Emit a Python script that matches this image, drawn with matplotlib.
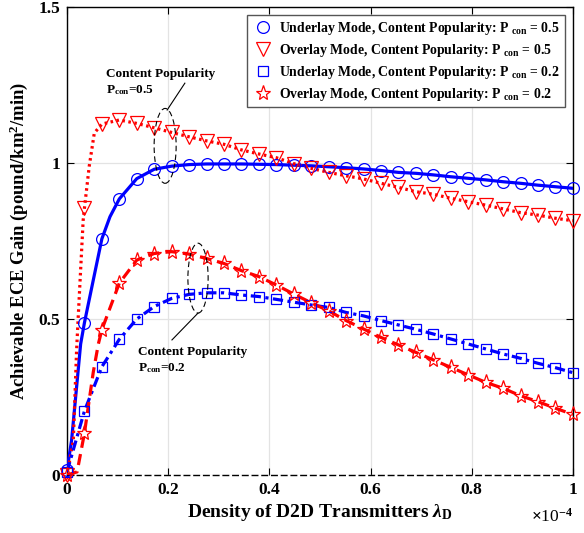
import numpy as np
import matplotlib
matplotlib.use("Agg")
import matplotlib.pyplot as plt
from matplotlib.patches import Ellipse
from matplotlib.lines import Line2D

plt.rcParams["font.family"] = ["Liberation Serif", "DejaVu Serif"]
plt.rcParams["font.weight"] = "bold"
plt.rcParams["mathtext.fontset"] = "custom"
plt.rcParams["mathtext.rm"] = "Liberation Serif"
plt.rcParams["mathtext.bf"] = "Liberation Serif:bold"
plt.rcParams["mathtext.it"] = "Liberation Serif:italic"

# D2D transmitter density (per m^2), 30 sample points
lam = np.linspace(0, 1e-4, 30)

# ECE gain at the marker points
ece_under_05 = [0.015, 0.488, 0.757, 0.885, 0.950, 0.980, 0.990, 0.995, 0.997, 0.997,
                0.997, 0.996, 0.995, 0.993, 0.991, 0.988, 0.985, 0.981, 0.976, 0.970,
                0.967, 0.962, 0.956, 0.951, 0.946, 0.940, 0.935, 0.929, 0.924, 0.919]
ece_over_05 = [0.0, 0.855, 1.125, 1.138, 1.127, 1.113, 1.098, 1.084, 1.071, 1.060,
               1.042, 1.029, 1.017, 0.998, 0.983, 0.970, 0.959, 0.949, 0.935, 0.922,
               0.908, 0.900, 0.887, 0.876, 0.865, 0.853, 0.841, 0.833, 0.823, 0.815]
ece_under_02 = [0.010, 0.205, 0.347, 0.435, 0.500, 0.540, 0.566, 0.579, 0.584, 0.584,
                0.577, 0.572, 0.563, 0.554, 0.545, 0.537, 0.521, 0.510, 0.495, 0.481,
                0.467, 0.452, 0.436, 0.420, 0.404, 0.388, 0.374, 0.358, 0.344, 0.328]
ece_over_02 = [0.0, 0.134, 0.466, 0.615, 0.689, 0.710, 0.716, 0.708, 0.694, 0.678,
               0.655, 0.636, 0.609, 0.580, 0.552, 0.526, 0.495, 0.468, 0.441, 0.417,
               0.393, 0.369, 0.345, 0.321, 0.297, 0.278, 0.254, 0.235, 0.214, 0.194]

# extra curve points in the steep low-density region (lambda in 1e-4 units)
rise_under_05_x = [0.009, 0.027, 0.052, 0.085]
rise_under_05_y = [0.11, 0.42, 0.625, 0.828]
rise_over_05_x = [0.0125, 0.019, 0.022, 0.032, 0.044, 0.054]
rise_over_05_y = [0.11, 0.40, 0.50, 0.817, 0.99, 1.096]
rise_over_02_x = [0.02, 0.052, 0.062]
rise_over_02_y = [0.01, 0.33, 0.42]

xtick_labels = ["0", "0.2", "0.4", "0.6", "0.8", "1"]
ytick_labels = ["0", "0.5", "1", "1.5"]

legend_labels = [
    r"Underlay Mode, Content Popularity: P $_{\mathbf{con}}$ = 0.5",
    r"Overlay Mode, Content Popularity: P $_{\mathbf{con}}$ = 0.5",
    r"Underlay Mode, Content Popularity: P $_{\mathbf{con}}$ = 0.2",
    r"Overlay Mode, Content Popularity: P $_{\mathbf{con}}$ = 0.2",
]


def curve(y, extra_x=(), extra_y=()):
    xs = np.concatenate([lam, np.asarray(extra_x, float) * 1e-4])
    ys = np.concatenate([y, extra_y])
    order = np.argsort(xs)
    return xs[order], ys[order]


fig = plt.figure(figsize=(5.84, 5.33), dpi=100)
ax = fig.add_axes([0.1147, 0.1088, 0.8663, 0.878])

lw = 2.3
series = [
    (ece_under_05, rise_under_05_x, rise_under_05_y, "b", "-", "o", 8.5),
    (ece_over_05, rise_over_05_x, rise_over_05_y, "r", (0, (0.8, 1.1)), "v", 9.5),
    (ece_under_02, (), (), "b", (0, (3.2, 1.4, 1.0, 1.4)), "s", 7),
    (ece_over_02, rise_over_02_x, rise_over_02_y, "r", (0, (3.5, 2.0)), "*", 11),
]
handles = []
for (y, ex, ey, c, ls, mk, ms), lab in zip(series, legend_labels):
    cx, cy = curve(y, ex, ey)
    ax.plot(cx, cy, color=c, linestyle=ls, linewidth=lw, zorder=3)
    ax.plot(lam, y, linestyle="none", marker=mk, markersize=ms, markerfacecolor="none",
            markeredgecolor=c, markeredgewidth=0.9, clip_on=False, zorder=4)
    handles.append(Line2D([], [], linestyle="none", marker=mk, markersize=ms,
                          markerfacecolor="none", markeredgecolor=c, markeredgewidth=0.9,
                          label=lab))

ax.set_xlim(0, 1e-4)
ax.set_ylim(0, 1.5)
ax.set_xticks(np.linspace(0, 1e-4, 6))
ax.set_xticklabels(xtick_labels)
ax.set_yticks([0, 0.5, 1, 1.5])
ax.set_yticklabels(ytick_labels)
ax.text(1.0, -0.09, r"$\times$10$^{-4}$", transform=ax.transAxes, ha="right",
        va="center", fontsize=12.5, fontweight="normal")

ax.grid(True, color="#e3e3e3", linewidth=0.9, zorder=0)
ax.set_axisbelow(True)
ax.tick_params(direction="in", top=True, right=True, length=5, width=0.8,
               labelsize=12.5, pad=5)
for s in ax.spines.values():
    s.set_linewidth(1.0)
ax.spines["bottom"].set_linestyle((0, (4, 3)))

ax.set_xlabel(r"Density of D2D Transmitters $\lambda_{\mathbf{D}}$", fontsize=14,
              fontweight="bold", labelpad=3)
ax.set_ylabel(r"Achievable ECE Gain (pound/km$^{\mathbf{2}}$/min)", fontsize=13.4,
              fontweight="bold", labelpad=6)

# annotations for the two popularity groups
ax.add_patch(Ellipse((0.194e-4, 1.055), 0.0435e-4, 0.24, fill=False, linestyle=(0, (5, 3)),
                     edgecolor="k", linewidth=0.8, zorder=5))
ax.plot([0.198e-4, 0.233e-4], [1.170, 1.256], color="k", linewidth=0.8, zorder=5)
ax.text(0.077e-4, 1.258, "Content Popularity\n" + r"P$_{\mathbf{con}}$=0.5", fontsize=9.5,
        fontweight="bold", ha="left", va="center", linespacing=1.3)

ax.add_patch(Ellipse((0.259e-4, 0.631), 0.04e-4, 0.224, fill=False, linestyle=(0, (5, 3)),
                     edgecolor="k", linewidth=0.8, zorder=5))
ax.plot([0.259e-4, 0.2075e-4], [0.519, 0.433], color="k", linewidth=0.8, zorder=5)
ax.text(0.140e-4, 0.368, "Content Popularity\n" + r"P$_{\mathbf{con}}$=0.2", fontsize=9.5,
        fontweight="bold", ha="left", va="center", linespacing=1.3)

leg = ax.legend(handles=handles, loc="upper right", fontsize=9.9, frameon=True,
                fancybox=False, framealpha=1, edgecolor="#555555", borderaxespad=0.6,
                handletextpad=0.4, labelspacing=0.35, borderpad=0.35, handlelength=1.6)
leg.get_frame().set_linewidth(1.0)

fig.savefig("out.png", dpi=100)
